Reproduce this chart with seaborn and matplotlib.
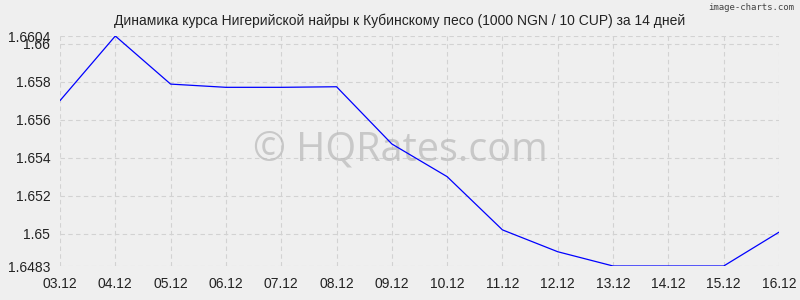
import matplotlib
matplotlib.use("Agg")
import matplotlib.pyplot as plt
import seaborn as sns
import pandas as pd

dates = ["03.12", "04.12", "05.12", "06.12", "07.12", "08.12", "09.12",
         "10.12", "11.12", "12.12", "13.12", "14.12", "15.12", "16.12"]
rates = [1.6570, 1.6604, 1.65787, 1.65770, 1.65770, 1.65773, 1.65472,
         1.65300, 1.65020, 1.64905, 1.6483, 1.6483, 1.6483, 1.65008]
ytick_vals = [1.6483, 1.65, 1.652, 1.654, 1.656, 1.658, 1.66, 1.6604]
ytick_labels = ["1.6483", "1.65", "1.652", "1.654", "1.656", "1.658", "1.66", "1.6604"]
title = "Динамика курса Нигерийской найры к Кубинскому песо (1000 NGN / 10 CUP) за 14 дней"

sns.set_theme(style="white")
plt.rcParams['font.family'] = ['Liberation Sans', 'DejaVu Sans']

df = pd.DataFrame({"idx": range(len(dates)), "rate": rates})

fig = plt.figure(figsize=(8, 3), dpi=100, facecolor="#efefef")
ax = fig.add_axes([60/800, 34/300, 719/800, 230/300])
ax.set_facecolor("#efefef")

sns.lineplot(data=df, x="idx", y="rate", ax=ax, color="#0000ff", linewidth=0.9, zorder=3)

ax.set_xlim(0, len(dates) - 1)
ax.set_ylim(min(ytick_vals), max(ytick_vals))
ax.set_xticks(range(len(dates)))
ax.set_xticklabels(dates, fontsize=10, color="#222222")
ax.set_yticks(ytick_vals)
ax.set_yticklabels(ytick_labels, fontsize=10, color="#222222")
ax.tick_params(axis="x", length=0, pad=8)
ax.tick_params(axis="y", length=0, pad=7)
ax.set_xlabel("")
ax.set_ylabel("")
ax.grid(True, color="#d2d2d2", linestyle=(0, (4, 3)), linewidth=0.8)
for s in ax.spines.values():
    s.set_visible(False)
ax.set_axisbelow(True)

fig.text(0.5, 0.955, title, ha="center", va="top", fontsize=10, color="#222222")
fig.text(0.993, 0.99, "image-charts.com", ha="right", va="top", fontsize=6.5,
         color="#444444", family="DejaVu Sans Mono")
ax.text(0.5, 0.5, "© HQRates.com", transform=fig.transFigure, ha="center", va="center",
        fontsize=28.5, color="#b8b8b8", alpha=0.7, family=["Open Sans", "DejaVu Sans"], zorder=1)

fig.savefig("out.png", dpi=100, facecolor="#efefef")
